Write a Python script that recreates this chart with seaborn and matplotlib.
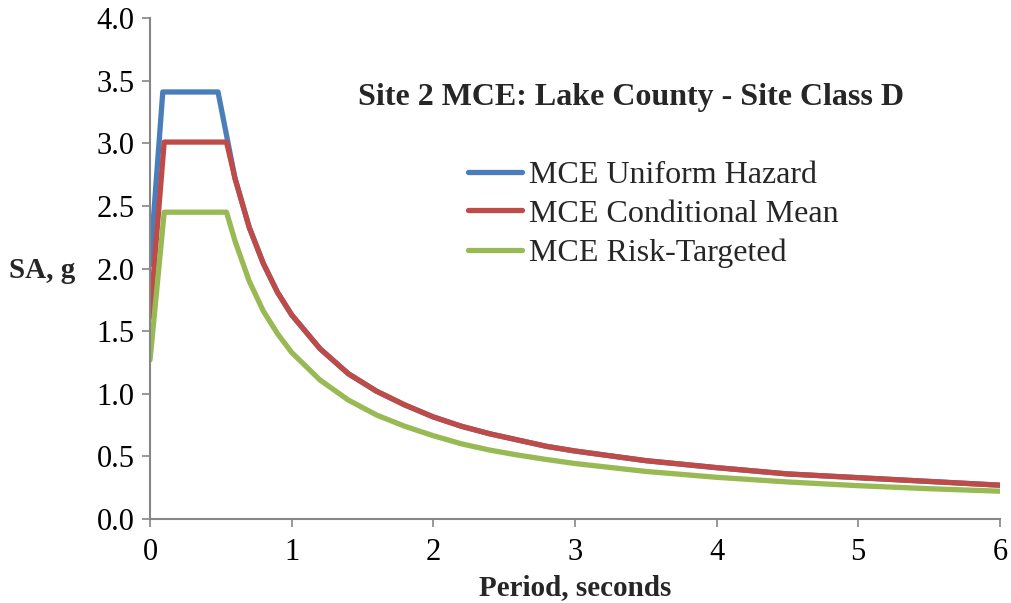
import matplotlib
matplotlib.use("Agg")
import matplotlib.pyplot as plt
import seaborn as sns
import pandas as pd

# Data
period_uh = [0.0, 0.09, 0.48, 0.6, 0.7, 0.8, 0.9, 1.0, 1.2, 1.4, 1.6, 1.8, 2.0, 2.2, 2.4, 2.6, 2.8, 3.0, 3.5, 4.0, 4.5, 5.0, 5.5, 6.0]
sa_uh = [2.03, 3.41, 3.41, 2.72, 2.33, 2.04, 1.81, 1.63, 1.36, 1.16, 1.02, 0.91, 0.815, 0.74, 0.68, 0.63, 0.58, 0.543, 0.466, 0.41, 0.36, 0.33, 0.30, 0.27]

period_cm = [0.0, 0.1, 0.54, 0.6, 0.7, 0.8, 0.9, 1.0, 1.2, 1.4, 1.6, 1.8, 2.0, 2.2, 2.4, 2.6, 2.8, 3.0, 3.5, 4.0, 4.5, 5.0, 5.5, 6.0]
sa_cm = [1.61, 3.01, 3.01, 2.72, 2.33, 2.04, 1.81, 1.63, 1.36, 1.16, 1.02, 0.91, 0.815, 0.74, 0.68, 0.63, 0.58, 0.543, 0.466, 0.41, 0.36, 0.33, 0.30, 0.27]

period_rt = [0.0, 0.1, 0.54, 0.6, 0.7, 0.8, 0.9, 1.0, 1.2, 1.4, 1.6, 1.8, 2.0, 2.2, 2.4, 2.6, 2.8, 3.0, 3.5, 4.0, 4.5, 5.0, 5.5, 6.0]
sa_rt = [1.27, 2.45, 2.45, 2.22, 1.90, 1.66, 1.48, 1.33, 1.11, 0.95, 0.83, 0.74, 0.665, 0.60, 0.55, 0.51, 0.475, 0.443, 0.38, 0.333, 0.296, 0.266, 0.242, 0.222]

series_names = ["MCE Uniform Hazard", "MCE Conditional Mean", "MCE Risk-Targeted"]
colors = ["#4A7EBB", "#BE4B48", "#98B954"]

x_ticks = [0, 1, 2, 3, 4, 5, 6]
y_ticks = [0.0, 0.5, 1.0, 1.5, 2.0, 2.5, 3.0, 3.5, 4.0]

sns.set_style("white")
plt.rcParams['font.family'] = ['Liberation Serif', 'DejaVu Serif']

fig = plt.figure(figsize=(10.11, 6.03), dpi=100)
ax = fig.add_axes([0.1484, 0.1393, 0.989 - 0.1484, 0.970 - 0.1393])

for name, px, sy, c in zip(series_names, [period_uh, period_cm, period_rt], [sa_uh, sa_cm, sa_rt], colors):
    df = pd.DataFrame({"Period": px, "SA": sy})
    sns.lineplot(data=df, x="Period", y="SA", ax=ax, color=c, linewidth=3.8,
                 label=name, sort=False, estimator=None)
    ax.lines[-1].set_solid_joinstyle("round")

ax.set_xlim(0, 6)
ax.set_ylim(0, 4)
ax.set_xticks(x_ticks)
ax.set_xticklabels([str(t) for t in x_ticks])
ax.set_yticks(y_ticks)
ax.set_yticklabels([f"{t:.1f}" for t in y_ticks])

gray = "#868686"
for s in ["top", "right"]:
    ax.spines[s].set_visible(False)
for s in ["left", "bottom"]:
    ax.spines[s].set_color(gray)
    ax.spines[s].set_linewidth(1.5)
ax.tick_params(axis="both", which="major", direction="out", length=6, width=1.2,
               color=gray, labelsize=22, labelcolor="black", bottom=True, left=True, pad=5)
ax.tick_params(axis="x", pad=8)

ax.set_xlabel("Period, seconds", fontsize=21, fontweight="bold", labelpad=5)
ax.set_ylabel("SA, g", fontsize=21, fontweight="bold", rotation=0, va="center", ha="center")
ax.yaxis.set_label_coords(-0.127, 0.497)

ax.text(0.566, 0.842, "Site 2 MCE: Lake County - Site Class D", transform=ax.transAxes,
        ha="center", va="center", fontsize=23, fontweight="bold")

leg = ax.legend(loc="upper left", bbox_to_anchor=(0.374, 0.716), frameon=False,
                fontsize=23, handlelength=1.7, labelspacing=0.3, borderaxespad=0,
                borderpad=0, handletextpad=0.2)

fig.savefig("out.png", dpi=100)
